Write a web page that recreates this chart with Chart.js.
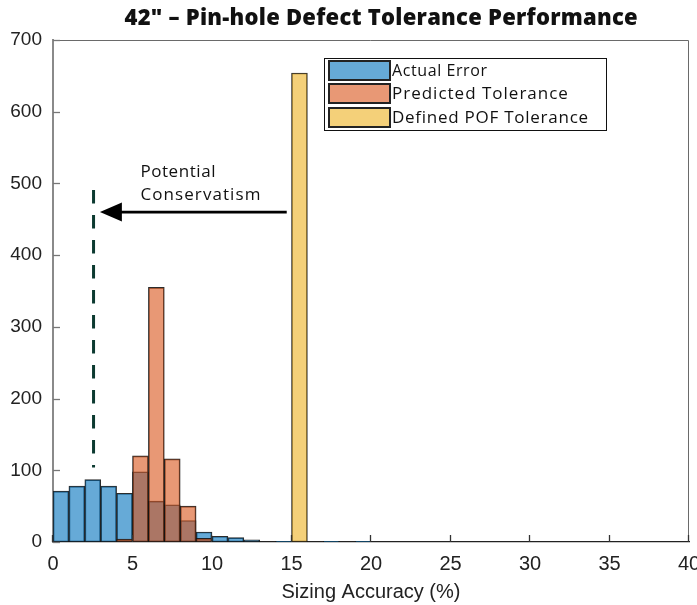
<!DOCTYPE html>
<html><head><meta charset="utf-8">
<script src="https://cdn.jsdelivr.net/npm/chart.js@4/dist/chart.umd.min.js"></script>
<style>html,body{margin:0;padding:0;background:#fff;}canvas{display:block;}</style>
</head><body>
<canvas id="c" width="697" height="605"></canvas>
<script>
// ---- data ----
const chartTitle = '42" \u2013 Pin-hole Defect Tolerance Performance';
const xAxisTitle = 'Sizing Accuracy (%)';
const binCenters = [0.5,1.5,2.5,3.5,4.5,5.5,6.5,7.5,8.5,9.5,10.5,11.5,12.5,13.5,14.5,15.5,16.5,17.5,18.5,19.5];
const actualError = [71,78,87,78,68,98,57,52,30,14,8,6,3,0,1,0,0,1,0,1];
const predictedTolerance = [0,0,0,0,4,120,355,116,50,5,0,0,0,0,0,0,0,0,0,0];
const definedPOFTolerance = [0,0,0,0,0,0,0,0,0,0,0,0,0,0,0,654,0,0,0,0];
const seriesLabels = ['Actual Error', 'Predicted Tolerance', 'Defined POF Tolerance'];
const xTicks = [0,5,10,15,20,25,30,35,40];
const yTicks = [0,100,200,300,400,500,600,700];
const conservatismLineX = [2.55, 2.55];
const conservatismLineY = [491, 104];
const arrowX = [14.7, 2.95];
const arrowY = 460;
const noteLines = ['Potential', 'Conservatism'];
const noteX = 5.5;
const noteY = [516, 484];

const toPoints = (vals) => binCenters.map((x, i) => ({x, y: vals[i] > 0 ? vals[i] : null}));

function fitText(ctx, text, x, y, width, align) {
  ctx.letterSpacing = '0px';
  const w = ctx.measureText(text).width;
  let sp = (width - w) / Math.max(1, text.length - 1);
  let start = x;
  if (align === 'center') start = x - width / 2;
  ctx.textAlign = 'left';
  if ('letterSpacing' in ctx) {
    ctx.letterSpacing = sp.toFixed(2) + 'px';
    ctx.fillText(text, start, y);
    ctx.letterSpacing = '0px';
  } else {
    ctx.fillText(text, start, y);
  }
}

const decor = {
  id: 'decor',
  afterDatasetsDraw(chart) {
    const {ctx, chartArea: a, scales: {x, y}} = chart;
    ctx.save();
    // box (top/right)
    ctx.strokeStyle = '#6a6a6a'; ctx.lineWidth = 1;
    ctx.beginPath();
    ctx.moveTo(a.left, a.top + 0.5); ctx.lineTo(a.right - 0.5, a.top + 0.5); ctx.lineTo(a.right - 0.5, a.bottom);
    ctx.stroke();
    // inward ticks
    ctx.strokeStyle = '#777'; ctx.lineWidth = 1.3;
    yTicks.forEach(v => { const py = Math.round(y.getPixelForValue(v)) + 0.5; ctx.beginPath(); ctx.moveTo(a.left, py); ctx.lineTo(a.left + 7, py); ctx.stroke(); });
    ctx.strokeStyle = '#333';
    xTicks.forEach(v => { const px = Math.round(x.getPixelForValue(v)) - 0.5; ctx.beginPath(); ctx.moveTo(px, a.bottom); ctx.lineTo(px, a.bottom - 7); ctx.stroke(); });
    // arrow
    const x0 = x.getPixelForValue(arrowX[0]), x1 = x.getPixelForValue(arrowX[1]), ay = y.getPixelForValue(arrowY);
    ctx.strokeStyle = '#000'; ctx.fillStyle = '#000'; ctx.lineWidth = 2.8;
    ctx.beginPath(); ctx.moveTo(x0, ay); ctx.lineTo(x1 + 18, ay); ctx.stroke();
    ctx.beginPath(); ctx.moveTo(x1, ay); ctx.lineTo(x1 + 22, ay - 9.5); ctx.lineTo(x1 + 22, ay + 9.5); ctx.closePath(); ctx.fill();
    // note text
    ctx.fillStyle = '#111'; ctx.textBaseline = 'middle';
    ctx.font = '500 17px "Open Sans"';
    const nx = x.getPixelForValue(noteX);
    fitText(ctx, noteLines[0], nx, y.getPixelForValue(noteY[0]), 75, 'left');
    fitText(ctx, noteLines[1], nx, y.getPixelForValue(noteY[1]), 120, 'left');
    // title
    ctx.font = '800 22px "Open Sans"';
    ctx.fillStyle = '#111';
    fitText(ctx, chartTitle, 381, 19, 513, 'center');
    // legend
    const L = {left: 324, top: 58, right: 607, bottom: 131};
    ctx.fillStyle = '#fff';
    ctx.fillRect(L.left, L.top, L.right - L.left, L.bottom - L.top);
    ctx.strokeStyle = '#111'; ctx.lineWidth = 1;
    ctx.strokeRect(L.left + 0.5, L.top + 0.5, L.right - L.left - 1, L.bottom - L.top - 1);
    const rows = [61, 84, 108];
    const widths = [95, 176, 196];
    const bars = chart.data.datasets.filter(d => d.type !== 'line');
    bars.forEach((d, i) => {
      ctx.fillStyle = d.backgroundColor;
      ctx.fillRect(329, rows[i], 61, 19);
      ctx.strokeStyle = '#222'; ctx.lineWidth = 2;
      ctx.strokeRect(329, rows[i], 61, 19);
      ctx.fillStyle = '#111';
      ctx.font = (i === 0 ? '400 16px' : '500 17px') + ' "Open Sans"';
      ctx.textBaseline = 'middle';
      fitText(ctx, d.label, 392, rows[i] + 10, widths[i], 'left');
    });
    ctx.restore();
  }
};

const barCommon = {type: 'bar', grouped: false, barPercentage: 1, categoryPercentage: 1, borderColor: 'rgba(20,20,20,0.9)', borderWidth: 1, borderSkipped: false};

new Chart(document.getElementById('c'), {
  type: 'bar',
  data: {
    datasets: [
      Object.assign({label: seriesLabels[0], data: toPoints(actualError), backgroundColor: 'rgba(0,114,189,0.6)', order: 3}, barCommon),
      Object.assign({label: seriesLabels[1], data: toPoints(predictedTolerance), backgroundColor: 'rgba(217,83,25,0.6)', order: 2}, barCommon),
      Object.assign({label: seriesLabels[2], data: toPoints(definedPOFTolerance), backgroundColor: 'rgba(237,177,32,0.6)', order: 1}, barCommon),
      {type: 'line', label: 'conservatism', data: conservatismLineX.map((xv, i) => ({x: xv, y: conservatismLineY[i]})),
       borderColor: '#0c3a30', borderWidth: 3, borderDash: [13.5, 11.5], pointRadius: 0, fill: false, order: 0}
    ]
  },
  options: {
    responsive: false,
    animation: false,
    layout: {padding: {top: 40, right: 8, left: 0, bottom: 0}},
    plugins: {legend: {display: false}, tooltip: {enabled: false}, title: {display: false}},
    scales: {
      x: {
        type: 'linear', min: 0, max: 40, offset: false,
        afterBuildTicks: s => { s.ticks = xTicks.map(v => ({value: v})); },
        afterFit: s => { s.height = 63; s.paddingLeft = 0; s.paddingRight = 0; },
        grid: {display: false, drawTicks: false},
        border: {display: true, color: '#222', width: 1.2},
        ticks: {padding: 10, color: '#222', font: {family: 'Liberation Sans', size: 20}, maxRotation: 0, autoSkip: false},
        title: {display: true, text: xAxisTitle, color: '#222', font: {family: 'Liberation Sans', size: 20}, padding: {top: 0, bottom: 1}}
      },
      y: {
        min: 0, max: 700,
        afterBuildTicks: s => { s.ticks = yTicks.map(v => ({value: v})); },
        afterFit: s => { s.width = 53; },
        grid: {display: false, drawTicks: false},
        border: {display: true, color: '#8a8a8a', width: 2},
        ticks: {padding: 11, color: '#222', font: {family: 'Liberation Sans', size: 19}}
      }
    }
  },
  plugins: [decor]
});
</script>
</body></html>
